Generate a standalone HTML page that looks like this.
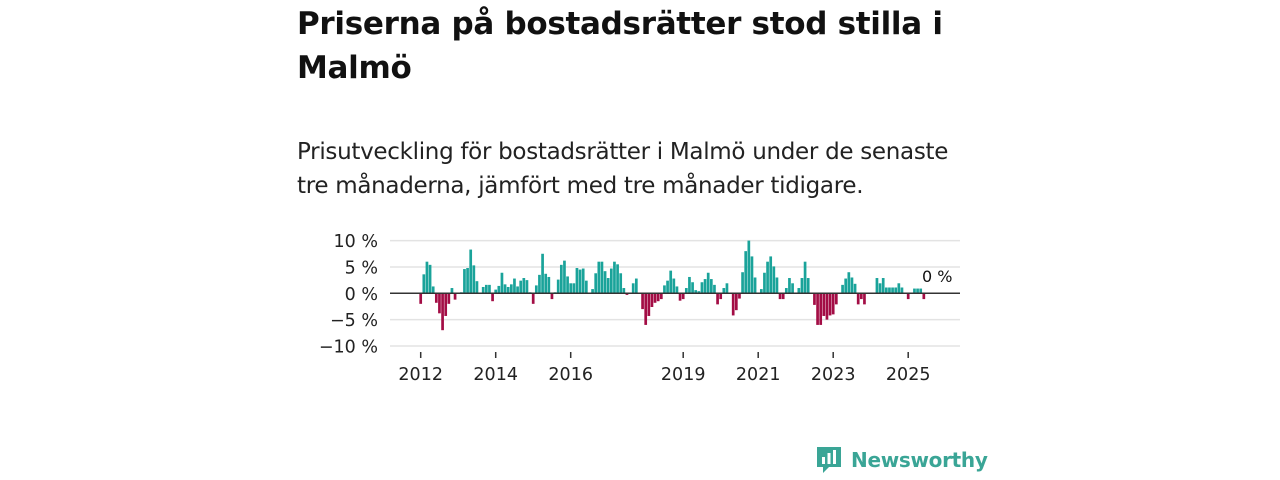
<!DOCTYPE html>
<html><head><meta charset="utf-8"><style>
body{margin:0;width:1280px;height:480px;background:#fff;font-family:"Liberation Sans","DejaVu Sans",sans-serif;overflow:hidden;position:relative}
h1{position:absolute;left:297px;top:2px;margin:0;font-size:31px;line-height:44px;font-weight:bold;color:#111;width:700px;font-family:"DejaVu Sans","Liberation Sans",sans-serif;letter-spacing:-0.3px}
p.sub{position:absolute;left:297px;top:135px;margin:0;font-size:23px;line-height:34px;color:#222;width:680px;font-family:"DejaVu Sans","Liberation Sans",sans-serif;letter-spacing:-0.3px}
.logo{position:absolute;left:815px;top:445px;display:flex;align-items:center;gap:8px;color:#3aa596;font-size:20px;font-weight:bold;font-family:"DejaVu Sans",sans-serif;letter-spacing:-0.3px}
svg text{font-family:"DejaVu Sans","Liberation Sans",sans-serif}
</style></head><body>
<h1>Priserna på bostadsrätter stod stilla i Malmö</h1>
<p class="sub">Prisutveckling för bostadsrätter i Malmö under de senaste tre månaderna, jämfört med tre månader tidigare.</p>
<svg id="chart" width="1280" height="480" style="position:absolute;left:0;top:0"></svg>
<div class="logo">
<svg width="28" height="30" viewBox="0 0 28 30"><path d="M2 2h24v20H14l-6 6v-6H2z" fill="#3aa596"/><rect x="7" y="12" width="3" height="7" fill="#fff"/><rect x="12.5" y="8" width="3" height="11" fill="#fff"/><rect x="18" y="5" width="3" height="14" fill="#fff"/></svg>
<span>Newsworthy</span></div>
<script>
const values=[-2,3.6,6,5.4,1.3,-1.8,-3.8,-7,-4.3,-2,1,-1.2,0,0.2,4.6,4.8,8.3,5.3,2.3,0,1.2,1.6,1.6,-1.5,0.7,1.4,3.9,1.7,1.2,1.7,2.8,1.3,2.4,2.9,2.5,0.2,-2,1.5,3.5,7.5,3.7,3.1,-1.1,0.2,2.6,5.4,6.2,3.2,1.9,1.9,4.8,4.5,4.7,2.4,0,0.8,3.8,6,6,4.2,2.9,4.7,6,5.5,3.8,1,-0.3,0,1.9,2.8,0,-3,-6,-4.3,-2.6,-1.8,-1.5,-1.1,1.5,2.4,4.3,2.8,1.3,-1.4,-1.1,1,3.1,2.1,0.6,0.4,2.1,2.7,3.9,2.7,1.6,-2.1,-1.1,1,1.9,0,-4.2,-3.2,-1,4,8,10,7,3,0,0.8,3.9,6,7,5.1,3,-1.1,-1.1,1,2.9,1.9,0,1,2.9,6,2.9,0,-2.2,-6,-6,-4.3,-5,-4.2,-4,-2.1,0,1.6,2.8,4,3,1.8,-2.1,-1.1,-2.1,0,0,0,2.9,1.9,2.9,1.1,1.1,1.1,1.1,1.9,1.1,0,-1.1,0,0.9,0.9,0.9,-1.1,0];
const startYear=2012;
const yTicks=[10,5,0,-5,-10];
const yTickLabels=["10 %","5 %","0 %","\u22125 %","\u221210 %"];
const xTickYears=[2012,2014,2016,2019,2021,2023,2025];
const NS="http://www.w3.org/2000/svg";
const svg=document.getElementById('chart');
const x=i=>420.7+i*3.125;
const y=v=>293.3-v*5.27;
function mk(t,a){const e=document.createElementNS(NS,t);for(const k in a)e.setAttribute(k,a[k]);svg.appendChild(e);return e;}
yTicks.forEach((t,i)=>{
 if(t!==0){const g=mk('line',{x1:390,x2:960,y1:y(t),y2:y(t),stroke:'#e3e3e3','stroke-width':1.5});
 
 }
 const l=mk('text',{x:378,y:y(t)+6.5,'text-anchor':'end','font-size':17.5,fill:'#222'});l.textContent=yTickLabels[i];
 
 
});
values.forEach((v,i)=>{
 const r=mk('rect',{x:x(i)-1.35,width:2.7,y:v>=0?y(v):y(0),height:Math.abs(y(v)-y(0)),fill:v>=0?'#1aa39a':'#a30d45'});
 
 
});
const z=mk('line',{x1:390,x2:960,y1:y(0),y2:y(0),stroke:'#333','stroke-width':1.5});


xTickYears.forEach(yr=>{
 const xi=x((yr-startYear)*12);
 const t=mk('line',{x1:xi,x2:xi,y1:352,y2:358,stroke:'#333','stroke-width':1.5});
 
 
 const l=mk('text',{x:xi,y:380,'text-anchor':'middle','font-size':17.5,fill:'#222'});l.textContent=yr;
 
 
});
const last=mk('text',{x:x(values.length-1)-5,y:282,'font-size':16,fill:'#111'});last.textContent=values[values.length-1]+" %";


</script>
</body></html>
